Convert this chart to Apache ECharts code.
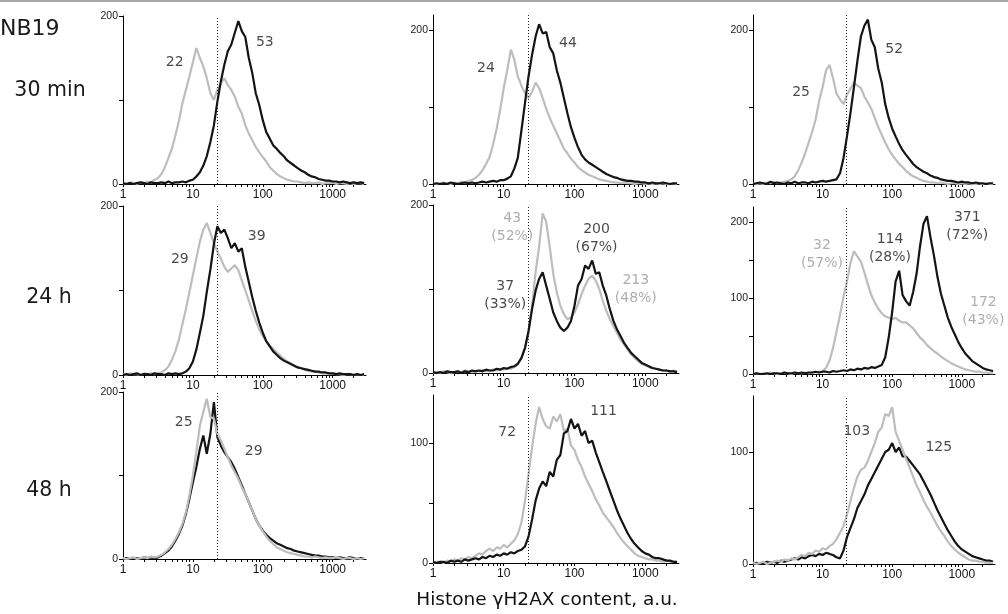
<!DOCTYPE html>
<html>
<head>
<meta charset="utf-8">
<script src="https://cdn.jsdelivr.net/npm/echarts@6/dist/echarts.min.js"></script>
<style>
html,body{margin:0;padding:0;background:#fff;}
#chart{width:1008px;height:614px;}
</style>
</head>
<body>
<div id="chart"></div>
<script>
// Channel (bin) centres of the histograms, a.u.
const bins = [1,1.12,1.26,1.41,1.58,1.78,2.00,2.24,2.51,2.82,
  3.16,3.55,3.98,4.47,5.01,5.62,6.31,7.08,7.94,8.91,
  10.0,11.2,12.6,14.1,15.8,17.8,20.0,22.4,25.1,28.2,
  31.6,35.5,39.8,44.7,50.1,56.2,63.1,70.8,79.4,89.1,
  100,112,126,141,158,178,200,224,251,282,
  316,355,398,447,501,562,631,708,794,891,
  1000,1122,1259,1413,1585,1778,1995,2239,2512,2818];

const rowLabels = ["30 min", "24 h", "48 h"];
const cellLine = "NB19";
const xTitle = "Histone \u03b3H2AX content, a.u.";
const xTickLabels = [1, 10, 100, 1000];
const xMinorTicks = [1,2,3,4,5,6,7,8,9,10,20,30,40,50,60,70,80,90,100,200,300,400,500,600,700,800,900,1000,2000];
const threshold = 22;

// 30 min
const p1Gray = [1,0,2,1,0,2,1,3,2,5, 7,12,20,31,42,58,75,96,112,128, 145,162,150,140,126,108,100,112,120,126, 118,112,104,92,84,70,60,52,44,38, 32,27,20,16,12,9,7,5,4,3, 3,2,1,2,1,1,2,0,1,1, 2,0,1,1,0,1,0,1,1,0];
const p1Black = [1,0,1,0,1,2,1,0,2,1, 1,2,1,3,1,2,2,3,2,4, 5,9,14,22,33,50,70,98,122,142, 158,166,180,194,182,175,150,132,108,94, 76,62,54,46,42,37,33,28,25,22, 19,16,14,11,9,8,6,5,4,4, 3,3,2,3,2,1,2,1,2,1];
const p2Gray = [1,0,1,2,1,0,2,1,3,2, 4,5,8,12,18,26,35,52,72,97, 125,148,175,162,140,128,118,112,120,132, 125,112,98,86,76,66,56,46,40,33, 28,22,18,15,12,10,8,6,5,4, 3,2,2,1,2,1,1,0,1,1, 0,1,0,1,0,1,0,0,1,0];
const p2Black = [0,1,0,1,0,2,1,0,1,2, 1,2,1,2,3,2,3,4,3,5, 5,7,10,20,34,70,106,140,168,192, 208,196,198,178,170,148,132,112,92,74, 60,48,38,32,28,25,22,19,16,13, 11,9,8,6,5,4,4,3,3,2, 2,1,2,1,1,2,1,0,1,1];
const p3Gray = [1,0,1,0,2,1,3,1,2,3, 4,6,10,18,28,40,54,68,84,108, 126,148,155,138,118,110,104,116,124,132, 128,125,114,106,98,86,74,64,54,45, 38,32,26,22,17,13,10,8,6,4, 3,2,2,1,2,1,0,1,1,0, 1,0,1,0,0,1,0,1,0,0];
const p3Black = [0,1,2,1,0,3,1,2,1,0, 2,1,3,1,2,2,1,3,2,3, 4,3,4,5,6,14,34,62,92,126, 160,192,206,214,188,178,150,132,104,86, 72,62,52,44,38,32,26,22,19,16, 14,11,9,8,6,5,4,4,3,2, 3,2,2,1,2,1,1,0,1,1];
// 24 h
const p4Gray = [1,0,2,1,1,0,2,1,2,1, 2,3,6,10,18,28,42,60,78,98, 118,138,158,172,180,168,156,146,138,128, 122,126,130,124,112,100,88,76,64,54, 46,40,35,31,27,23,19,16,14,11, 9,8,6,5,4,4,3,2,2,1, 2,1,1,0,1,1,0,1,0,0];
const p4Black = [0,1,0,1,2,0,1,1,0,2, 1,1,0,2,1,2,1,2,4,8, 16,30,50,70,98,125,155,176,168,172, 162,150,156,146,150,128,110,92,76,62, 50,40,34,28,24,20,17,15,13,11, 9,8,7,6,5,4,4,3,3,2, 2,1,2,1,1,1,0,1,0,1];
const p5Gray = [0,1,0,2,1,0,1,2,1,3, 2,1,3,2,4,2,3,4,3,5, 4,6,5,7,10,18,30,48,80,120, 150,190,180,150,118,96,80,70,64,66, 72,82,94,104,112,116,110,100,86,74, 64,56,48,40,34,28,22,18,14,11, 9,7,6,5,4,3,3,2,3,2];
const p5Black = [1,0,1,0,2,1,1,2,0,2, 1,3,2,3,2,4,3,3,5,4, 6,5,7,8,11,18,30,50,76,98, 112,120,104,88,72,62,54,50,54,62, 80,104,112,128,124,134,118,120,104,92, 76,62,52,44,36,30,24,20,16,12, 10,8,6,5,4,3,3,2,2,1];
const p6Gray = [0,1,0,1,0,2,1,0,1,2, 1,0,2,1,1,2,1,2,2,3, 4,8,18,34,55,78,102,122,146,162, 155,148,134,118,104,94,86,80,76,74, 72,74,70,68,68,64,60,54,48,44, 38,34,30,27,23,20,17,14,12,10, 8,6,5,4,3,3,2,2,1,1];
const p6Black = [0,1,0,0,1,0,1,1,0,2, 1,1,2,1,2,1,2,2,3,2, 3,3,2,4,3,4,5,4,6,5, 7,6,8,7,9,8,10,12,22,48, 82,122,136,104,96,90,108,132,168,198, 208,180,156,128,106,90,74,62,52,42, 34,27,22,17,14,11,8,6,5,4];
// 48 h
const p7Gray = [1,0,1,2,0,1,2,1,3,2, 3,5,8,12,17,24,32,42,56,76, 100,128,160,176,192,170,168,150,142,132, 122,112,104,96,86,78,68,58,48,40, 33,27,22,18,14,12,10,8,7,6, 5,4,3,3,2,3,2,1,2,1, 1,2,1,0,1,1,0,1,0,1];
const p7Black = [0,1,0,1,1,0,2,1,2,1, 2,4,7,10,15,22,30,40,54,72, 92,110,132,148,126,150,188,146,136,128, 122,116,108,98,88,78,68,58,48,40, 34,29,25,22,19,17,15,13,12,10, 9,8,7,6,5,4,4,3,3,2, 2,1,2,1,1,2,1,0,1,1];
const p8Gray = [0,1,1,0,2,1,3,2,4,3, 5,4,6,8,7,10,12,10,13,12, 15,13,16,19,24,34,52,74,96,116, 130,120,114,112,122,118,124,110,112,98, 94,86,80,72,66,60,53,48,42,38, 34,30,25,21,17,14,11,8,6,5, 4,3,3,2,2,1,2,1,1,1];
const p8Black = [1,0,1,1,0,2,1,2,1,3, 2,3,4,3,5,4,6,5,7,6, 8,7,9,8,10,11,14,22,36,52, 62,68,64,76,72,86,90,108,110,120, 112,116,106,110,100,102,92,84,76,68, 60,52,44,37,31,25,20,16,13,10, 8,7,5,4,4,3,2,2,1,1];
const p9Gray = [1,0,1,2,0,1,2,3,2,4, 3,5,4,6,8,7,10,9,12,11, 14,13,16,18,22,28,34,44,56,68, 78,84,86,92,100,108,118,122,134,132, 140,118,110,102,94,86,78,70,64,57, 51,46,40,34,29,25,20,16,13,10, 8,6,4,3,3,2,2,1,1,1];
const p9Black = [0,1,0,1,2,1,2,1,3,2, 3,4,5,4,6,5,7,8,7,9, 8,10,9,8,6,5,12,24,32,40, 50,56,62,70,76,82,88,94,100,102, 108,100,104,96,96,92,88,84,80,74, 68,62,55,48,42,36,30,25,20,16, 13,11,9,7,6,5,4,3,3,2];

// Mean values written on the panels: text, tone, and anchor in data units
const notes = [
  [["22","k",5.5,145],["53","k",107,169]],
  [["24","k",5.6,150],["44","k",81,183]],
  [["25","k",4.9,119],["52","k",107,175]],
  [["29","k",6.5,137],["39","k",82,164]],
  [["43\n(52%)","g",13.2,173],["37\n(33%)","k",10.5,92],["200\n(67%)","k",205,160],["213\n(48%)","g",735,99]],
  [["32\n(57%)","g",9.8,157],["114\n(28%)","k",93,166],["371\n(72%)","k",1200,195],["172\n(43%)","g",2040,83]],
  [["25","k",7.4,164],["29","k",74,129]],
  [["72","k",11.2,109],["111","k",257,126]],
  [["103","k",31,118],["125","k",467,104]]
];

const grays = [p1Gray,p2Gray,p3Gray,p4Gray,p5Gray,p6Gray,p7Gray,p8Gray,p9Gray];
const blacks = [p1Black,p2Black,p3Black,p4Black,p5Black,p6Black,p7Black,p8Black,p9Black];
const yMax = [200,220,220, 200,200,220, 200,140,150];
const yTicks = [[0,100,200],[0,100,200],[0,100,200],[0,100,200],[0,100,200],[0,50,100,150,200],[0,100,200],[0,50,100],[0,50,100]];
const yLabels = [[0,200],[0,200],[0,200],[0,200],[0,200],[0,100,200],[0,200],[0,100],[0,100]];
const grayOnTop = [false,false,false,false,false,false,true,false,true];

// ---- layout (pixels) ----
const colLeft = [123, 433, 753];
const colWidth = [243, 246, 242];
const panelBox = [
  [16,184],[15,184],[15,184],
  [206,375],[205,373],[207,374],
  [392,559],[395,563],[396,564]
];
const GRAY = '#bdbdbd', BLACK = '#141414';
const FONT = "'Liberation Sans', Arial, Helvetica, sans-serif";
const WIDE = "'DejaVu Sans', 'Liberation Sans', sans-serif";

const grid = [], xAxis = [], yAxis = [], series = [];
for (let i = 0; i < 9; i++) {
  const c = i % 3;
  grid.push({left: colLeft[c], width: colWidth[c], top: panelBox[i][0], height: panelBox[i][1]-panelBox[i][0], containLabel:false, outerBoundsMode:'none'});
  xAxis.push({
    type:'log', logBase:10, gridIndex:i, min:1, max:3000,
    axisLine:{show:true, onZero:false, lineStyle:{color:'#000', width:1}},
    axisTick:{show:true, length:3, customValues:xMinorTicks, lineStyle:{color:'#000', width:1}},
    minorTick:{show:false},
    axisLabel:{show:true, customValues:xTickLabels, fontSize:12, color:'#111', margin:5, fontFamily:FONT, formatter:v=>String(Math.round(v))},
    splitLine:{show:false}
  });
  yAxis.push({
    type:'value', gridIndex:i, min:0, max:yMax[i],
    axisLine:{show:true, lineStyle:{color:'#000', width:1}},
    axisTick:{show:true, length:4, customValues:yTicks[i], lineStyle:{color:'#000', width:1}},
    axisLabel:{show:true, customValues:yLabels[i], fontSize:10.5, color:'#222', margin:5, fontFamily:FONT},
    splitLine:{show:false}
  });
  const g = {
    type:'line', xAxisIndex:i, yAxisIndex:i, showSymbol:false, symbol:'none', silent:true,
    data: bins.map((b,k)=>[b, grays[i][k]]),
    lineStyle:{color:GRAY, width:2.2}, z: grayOnTop[i] ? 4 : 2
  };
  const k = {
    type:'line', xAxisIndex:i, yAxisIndex:i, showSymbol:false, symbol:'none', silent:true,
    data: bins.map((b,j)=>[b, blacks[i][j]]),
    lineStyle:{color:BLACK, width:2.2}, z: grayOnTop[i] ? 2 : 4,
    markLine:{silent:true, symbol:'none', label:{show:false},
      lineStyle:{type:[1,2], color:'#222', width:1}, data:[{xAxis:threshold}]}
  };
  series.push(g, k);
  series.push({
    type:'scatter', xAxisIndex:i, yAxisIndex:i, silent:true, symbolSize:1, z:6,
    itemStyle:{color:'rgba(0,0,0,0)'},
    data: notes[i].map(n=>({value:[n[2], n[3]], label:{show:true, position:'inside', formatter:n[0],
      color: n[1]==='g' ? '#9a9a9a' : '#1a1a1a', fontSize:14, lineHeight:18, fontFamily:WIDE}}))
  });
}

const chart = echarts.init(document.getElementById('chart'), null, {renderer:'canvas'});
chart.setOption({
  animation:false,
  backgroundColor:'#fff',
  textStyle:{fontFamily:FONT},
  grid, xAxis, yAxis, series,
  graphic:[
    {type:'line', shape:{x1:0,y1:1,x2:1008,y2:1}, style:{stroke:'#a8a8a8', lineWidth:2}},
    {type:'text', x:0, y:29, style:{text:cellLine, font:"22px "+WIDE, fill:'#1a1a1a', verticalAlign:'middle'}},
    {type:'text', x:50, y:91, style:{text:rowLabels[0], font:"20.5px "+WIDE, fill:'#1a1a1a', align:'center', verticalAlign:'middle'}},
    {type:'text', x:49, y:298, style:{text:rowLabels[1], font:"20.5px "+WIDE, fill:'#1a1a1a', align:'center', verticalAlign:'middle'}},
    {type:'text', x:49, y:491, style:{text:rowLabels[2], font:"20.5px "+WIDE, fill:'#1a1a1a', align:'center', verticalAlign:'middle'}},
    {type:'text', x:547, y:600, style:{text:xTitle, font:"18.5px "+WIDE, fill:'#111', align:'center', verticalAlign:'middle'}}
  ]
});
</script>
</body>
</html>
